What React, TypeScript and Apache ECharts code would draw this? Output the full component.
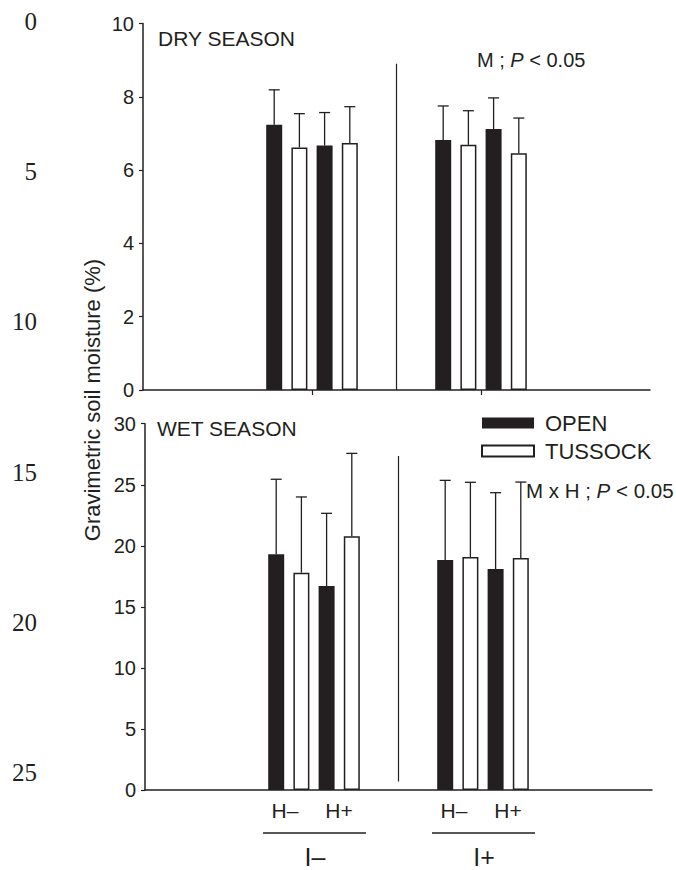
import React, { useEffect, useRef } from 'react';
import * as echarts from 'echarts';

// ---------------- data ----------------
const categories = ['', 'I–', 'I+', ''];
const groupIndices = [1, 2];
const treatmentLabels = ['H–', 'H+'];
const seriesNames = ['OPEN', 'TUSSOCK', 'OPEN', 'TUSSOCK']; // order: OPEN H–, TUSSOCK H–, OPEN H+, TUSSOCK H+

// dry season means per bar slot, per group [I–, I+]
const dryOpenHminus = [7.24, 6.82];
const dryTussockHminus = [6.62, 6.69];
const dryOpenHplus = [6.67, 7.12];
const dryTussockHplus = [6.74, 6.46];
// dry season error (SE)
const dryErrOpenHminus = [0.95, 0.93];
const dryErrTussockHminus = [0.92, 0.93];
const dryErrOpenHplus = [0.9, 0.85];
const dryErrTussockHplus = [0.99, 0.96];

// wet season means
const wetOpenHminus = [19.3, 18.84];
const wetTussockHminus = [17.8, 19.08];
const wetOpenHplus = [16.7, 18.1];
const wetTussockHplus = [20.78, 19.0];
// wet season errors
const wetErrOpenHminus = [6.15, 6.52];
const wetErrTussockHminus = [6.2, 6.12];
const wetErrOpenHplus = [5.96, 6.25];
const wetErrTussockHplus = [6.79, 6.22];

const dryTicks = [0, 2, 4, 6, 8, 10];
const wetTicks = [0, 5, 10, 15, 20, 25, 30];

// separator line extent (y values) per panel
const dryDivider = [8.9, 0];
const wetDivider = [27.35, 0.7];

const lineNumbers = [0, 5, 10, 15, 20, 25];

// ---------------- style ----------------
const SANS = '"Liberation Sans", Arial, Helvetica, sans-serif';
const SERIF = '"Liberation Serif", "Times New Roman", serif';
const INK = '#231f20';
const BAR_W = 16;
const BAR_GAP = 9.2;
const STEP = BAR_W + BAR_GAP;

const dryMeans = [dryOpenHminus, dryTussockHminus, dryOpenHplus, dryTussockHplus];
const dryErrs = [dryErrOpenHminus, dryErrTussockHminus, dryErrOpenHplus, dryErrTussockHplus];
const wetMeans = [wetOpenHminus, wetTussockHminus, wetOpenHplus, wetTussockHplus];
const wetErrs = [wetErrOpenHminus, wetErrTussockHminus, wetErrOpenHplus, wetErrTussockHplus];

function panelSeries(means: number[][], errs: number[][], divider: number[], p: number) {
  const out: any[] = [];
  means.forEach((m, s) => {
    const data: any[] = categories.map(() => '-');
    groupIndices.forEach((ci, g) => { data[ci] = m[g]; });
    out.push({
      type: 'bar',
      name: seriesNames[s],
      xAxisIndex: p,
      yAxisIndex: p,
      data,
      barWidth: BAR_W,
      barGap: (BAR_GAP / BAR_W * 100).toFixed(1) + '%',
      itemStyle: s % 2 === 0
        ? { color: INK, borderColor: INK, borderWidth: 0 }
        : { color: '#ffffff', borderColor: INK, borderWidth: 1.5 },
      silent: true,
    });
  });
  const errData: number[][] = [];
  means.forEach((m, s) => {
    groupIndices.forEach((ci, g) => {
      errData.push([ci, s, m[g], errs[s][g]]);
    });
  });
  out.push({
    type: 'custom',
    xAxisIndex: p,
    yAxisIndex: p,
    silent: true,
    encode: { x: 0, y: 2 },
    data: errData,
    z: 3,
    renderItem: (params: any, api: any) => {
      const ci = api.value(0);
      const slot = api.value(1);
      const mean = api.value(2);
      const e = api.value(3);
      const base = api.coord([ci, mean]);
      const top = api.coord([ci, mean + e]);
      const x = base[0] + (slot - 1.5) * STEP;
      const st = { stroke: INK, lineWidth: 1.3 };
      return {
        type: 'group',
        children: [
          { type: 'line', shape: { x1: x, y1: base[1], x2: x, y2: top[1] }, style: st },
          { type: 'line', shape: { x1: x - 5.5, y1: top[1], x2: x + 5.5, y2: top[1] }, style: st },
        ],
      };
    },
  });
  out.push({
    type: 'custom',
    xAxisIndex: p,
    yAxisIndex: p,
    silent: true,
    encode: { x: 0, y: 1 },
    data: [[groupIndices[0], divider[0], divider[1]]],
    renderItem: (params: any, api: any) => {
      const a = api.coord([groupIndices[0], api.value(1)]);
      const b = api.coord([groupIndices[1], api.value(2)]);
      const x = (a[0] + b[0]) / 2;
      return { type: 'line', shape: { x1: x, y1: a[1], x2: x, y2: b[1] }, style: { stroke: INK, lineWidth: 1.2 } };
    },
  });
  return out;
}

function xAxis(p: number, ticks: boolean) {
  return {
    type: 'category',
    gridIndex: p,
    data: categories,
    boundaryGap: false,
    axisLine: { show: true, lineStyle: { color: INK, width: 1.5 } },
    axisTick: {
      show: ticks,
      interval: (i: number) => groupIndices.includes(i),
      length: 5,
      lineStyle: { color: INK, width: 1.2 },
    },
    axisLabel: { show: false },
    splitLine: { show: false },
  };
}

function yAxis(p: number, ticks: number[]) {
  return {
    type: 'value',
    gridIndex: p,
    min: ticks[0],
    max: ticks[ticks.length - 1],
    interval: ticks[1] - ticks[0],
    axisLine: { show: true, lineStyle: { color: INK, width: 1.5 } },
    axisTick: { show: true, length: 4, lineStyle: { color: INK, width: 1.2 } },
    axisLabel: { fontSize: 20, fontFamily: SANS, color: INK, margin: 9 },
    splitLine: { show: false },
  };
}

export default function App() {
  const ref = useRef<HTMLDivElement>(null);
  useEffect(() => {
    if (!ref.current) return;
    const chart = echarts.init(ref.current, null, { renderer: 'svg' });
    const option: any = {
      animation: false,
      backgroundColor: '#ffffff',
      grid: [
        { left: 143, top: 23.5, width: 507, height: 366.5 },
        { left: 145, top: 423.7, width: 507, height: 366.3 },
      ],
      xAxis: [xAxis(0, true), xAxis(1, false)],
      yAxis: [yAxis(0, dryTicks), yAxis(1, wetTicks)],
      legend: {
        left: 476,
        top: 407,
        orient: 'vertical',
        icon: 'rect',
        itemWidth: 52,
        itemHeight: 11,
        itemGap: 6,
        selectedMode: false,
        data: ['OPEN', 'TUSSOCK'],
        textStyle: { fontSize: 22, fontFamily: SANS, color: INK, padding: [0, 0, 0, 6] },
      },
      series: [
        ...panelSeries(dryMeans, dryErrs, dryDivider, 0),
        ...panelSeries(wetMeans, wetErrs, wetDivider, 1),
      ],
    };
    chart.setOption(option);

    const graphics: any[] = [];
    const txt = (x: number, y: number, text: string, size: number, extra: any = {}) => ({
      type: 'text',
      x,
      y,
      silent: true,
      style: {
        text,
        fontSize: size,
        fontFamily: SANS,
        fill: INK,
        align: 'left',
        verticalAlign: 'middle',
        ...extra,
      },
    });
    graphics.push(txt(158, 38, 'DRY SEASON', 21));
    graphics.push(txt(157, 428, 'WET SEASON', 21));
    const rich = (size: number) => ({
      n: { fontSize: size, fontFamily: SANS, fill: INK, color: INK },
      i: { fontSize: size, fontFamily: SANS, fill: INK, color: INK, fontStyle: 'italic' },
    });
    graphics.push(txt(477, 60, '{n|M ; }{i|P}{n| < 0.05}', 20, { rich: rich(20) }));
    graphics.push(txt(526, 490, '{n|M x H ; }{i|P}{n| < 0.05}', 20.5, { rich: rich(20.5) }));
    graphics.push({
      type: 'text',
      x: 92,
      y: 400,
      rotation: Math.PI / 2,
      silent: true,
      style: {
        text: 'Gravimetric soil moisture (%)',
        fontSize: 22,
        fontFamily: SANS,
        fill: INK,
        align: 'center',
        verticalAlign: 'middle',
      },
    });
    lineNumbers.forEach((n, i) => {
      graphics.push({
        type: 'text',
        x: 37,
        y: 21.5 + i * 150.2,
        silent: true,
        style: { text: String(n), fontSize: 25, fontFamily: SERIF, fill: INK, align: 'right', verticalAlign: 'middle' },
      });
    });
    groupIndices.forEach((ci) => {
      const pt = chart.convertToPixel({ xAxisIndex: 1, yAxisIndex: 1 } as any, [ci, 0]) as number[];
      const cx = pt[0];
      const by = pt[1];
      graphics.push(txt(cx - 29, by + 20, treatmentLabels[0], 21, { align: 'center' }));
      graphics.push(txt(cx + 25, by + 20, treatmentLabels[1], 21, { align: 'center' }));
      graphics.push({
        type: 'line',
        silent: true,
        shape: { x1: cx - 51, y1: by + 43, x2: cx + 52, y2: by + 43 },
        style: { stroke: INK, lineWidth: 1.4 },
      });
      graphics.push(txt(cx + 1, by + 67, categories[ci], 25, { align: 'center' }));
    });
    chart.setOption({ graphic: graphics });

    return () => chart.dispose();
  }, []);
  return (
    <div
      ref={ref}
      style={{ position: 'absolute', left: 0, top: 0, width: 676, height: 870, background: '#fff' }}
    />
  );
}
